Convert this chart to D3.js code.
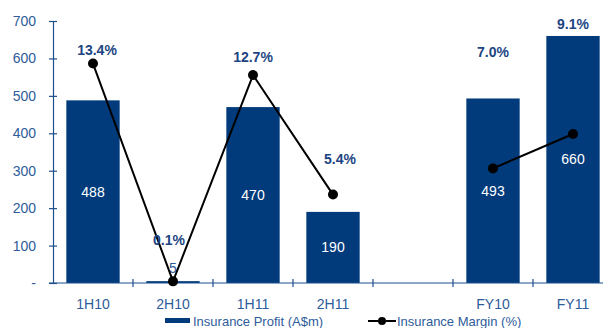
<!DOCTYPE html>
<html>
<head>
<meta charset="utf-8">
<script src="https://cdn.jsdelivr.net/npm/d3@7/dist/d3.min.js"></script>
<style>
  body { margin: 0; background: #fff; }
  svg { display: block; font-family: "Liberation Sans", Arial, sans-serif; }
</style>
</head>
<body>
<div id="chart"></div>
<script>
// 데이터
const categories = ["1H10", "2H10", "1H11", "2H11", "", "FY10", "FY11"];
const barCats = ["1H10", "2H10", "1H11", "2H11", "FY10", "FY11"];
const profit = [488, 5, 470, 190, 493, 660];          // Insurance Profit (A$m)
const margin = [13.4, 0.1, 12.7, 5.4, 7.0, 9.1];      // Insurance Margin (%)
const yTicks = [0, 100, 200, 300, 400, 500, 600, 700];
const lineGroups = [["1H10", "2H10", "1H11", "2H11"], ["FY10", "FY11"]];

const width = 603, height = 328;
const barColor = "#023B7B";
const axisColor = "#1F4E8C";
const labelColor = "#1D4583";

const svg = d3.select("#chart").append("svg")
  .attr("width", width)
  .attr("height", height);

// 스케일
const x = d3.scaleBand()
  .domain(categories)
  .range([53, 613])
  .paddingInner(1 / 3)
  .paddingOuter(1 / 6);

const y = d3.scaleLinear().domain([0, 700]).range([283, 21]);
const y2 = d3.scaleLinear().domain([0, 16]).range([283, 21]);

const rows = barCats.map((c, i) => ({ cat: c, profit: profit[i], margin: margin[i] }));

// 막대
svg.append("g").selectAll("rect")
  .data(rows)
  .enter().append("rect")
  .attr("x", d => x(d.cat))
  .attr("y", d => y(d.profit))
  .attr("width", x.bandwidth())
  .attr("height", d => y(0) - y(d.profit))
  .attr("fill", barColor);

// 막대 값 레이블
svg.append("g").selectAll("text")
  .data(rows)
  .enter().append("text")
  .attr("x", d => x(d.cat) + x.bandwidth() / 2)
  .attr("y", d => {
    const h = y(0) - y(d.profit);
    return h > 20 ? y(d.profit / 2) + 5 : y(d.profit) - 8;
  })
  .attr("text-anchor", "middle")
  .attr("font-size", 14)
  .attr("fill", d => (y(0) - y(d.profit)) > 20 ? "#fff" : "#2E5C9A")
  .text(d => d.profit);

// Y축
const yAxis = svg.append("g")
  .attr("transform", "translate(53,0)")
  .call(d3.axisLeft(y).tickValues(yTicks).tickSize(4).tickSizeOuter(0).tickPadding(13)
    .tickFormat(d => d === 0 ? "-" : d));
yAxis.selectAll(".tick line").attr("x2", 4).attr("x1", -4);
yAxis.selectAll("line, path").attr("stroke", axisColor).attr("stroke-width", 1.2);
yAxis.selectAll("text").attr("font-size", 14).attr("fill", "#2E5C9A")
  .attr("font-family", "Liberation Sans, Arial, sans-serif");

// X축
svg.append("line")
  .attr("x1", 49).attr("x2", width)
  .attr("y1", y(0)).attr("y2", y(0))
  .attr("stroke", axisColor).attr("stroke-width", 1.2);

const step = x.step();
svg.append("g").selectAll("line")
  .data(categories.slice(1))
  .enter().append("line")
  .attr("x1", d => x(d) - x.paddingInner() * step / 2)
  .attr("x2", d => x(d) - x.paddingInner() * step / 2)
  .attr("y1", y(0) - 4).attr("y2", y(0) + 4)
  .attr("stroke", axisColor).attr("stroke-width", 1.2);

svg.append("g").selectAll("text")
  .data(barCats)
  .enter().append("text")
  .attr("x", d => x(d) + x.bandwidth() / 2)
  .attr("y", 309)
  .attr("text-anchor", "middle")
  .attr("font-size", 14)
  .attr("fill", "#2E5C9A")
  .text(d => d);

// 마진 선
const byCat = new Map(rows.map(r => [r.cat, r]));
const line = d3.line()
  .x(d => x(d.cat) + x.bandwidth() / 2)
  .y(d => y2(d.margin));

lineGroups.forEach(g => {
  svg.append("path")
    .datum(g.map(c => byCat.get(c)))
    .attr("d", line)
    .attr("fill", "none")
    .attr("stroke", "#000")
    .attr("stroke-width", 2);
});

svg.append("g").selectAll("circle")
  .data(rows)
  .enter().append("circle")
  .attr("cx", d => x(d.cat) + x.bandwidth() / 2)
  .attr("cy", d => y2(d.margin))
  .attr("r", 5)
  .attr("fill", "#000");

// 마진 레이블 위치 (점 기준 이동, 레이아웃)
const labelShift = [[4, -9], [-4, -36], [0, -13], [7, -31], [0, null], [0, null]];
const labelTop = { FY10: 57, FY11: 29 };

svg.append("g").selectAll("text")
  .data(rows)
  .enter().append("text")
  .attr("x", (d, i) => x(d.cat) + x.bandwidth() / 2 + labelShift[i][0])
  .attr("y", (d, i) => labelShift[i][1] === null ? labelTop[d.cat] : y2(d.margin) + labelShift[i][1])
  .attr("text-anchor", "middle")
  .attr("font-size", 14)
  .attr("font-weight", "bold")
  .attr("fill", labelColor)
  .text(d => d.margin.toFixed(1) + "%");

// 범례
const legend = svg.append("g").attr("transform", "translate(0,321)");
legend.append("rect")
  .attr("x", 165).attr("y", -3).attr("width", 25).attr("height", 5)
  .attr("fill", barColor);
legend.append("text")
  .attr("x", 193).attr("y", 5)
  .attr("font-size", 13)
  .attr("fill", "#2E5C9A")
  .text("Insurance Profit (A$m)");
legend.append("line")
  .attr("x1", 368).attr("x2", 396).attr("y1", 0).attr("y2", 0)
  .attr("stroke", "#000").attr("stroke-width", 2);
legend.append("circle")
  .attr("cx", 382).attr("cy", 0).attr("r", 4)
  .attr("fill", "#000");
legend.append("text")
  .attr("x", 397).attr("y", 5)
  .attr("font-size", 13)
  .attr("fill", "#2E5C9A")
  .text("Insurance Margin (%)");
</script>
</body>
</html>
